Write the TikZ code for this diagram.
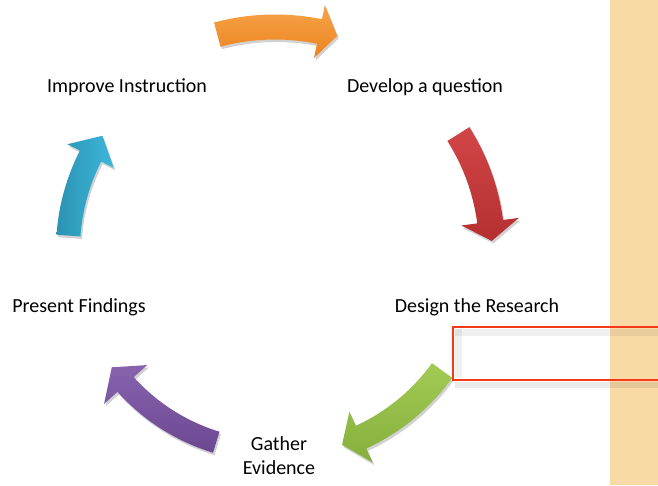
\documentclass[tikz,border=0pt]{standalone}
\usepackage{fontspec}
\setmainfont{Carlito}
\begin{document}
\begin{tikzpicture}[x=1pt,y=1pt,
  lbl/.style={font=\fontsize{20}{23.5}\selectfont, text=black, inner sep=0pt, anchor=base, align=center},
  shadowfill/.style={fill=black, opacity=0.18},
  orangearrow/.style={top color=orangeA, bottom color=orangeB, draw=none},
  redarrow/.style={top color=redA, bottom color=redB, draw=none},
  greenarrow/.style={top color=greenA, bottom color=greenB, draw=none},
  purplearrow/.style={top color=purpleA, bottom color=purpleB, draw=none},
  cyanarrow/.style={left color=cyanA, right color=cyanB, draw=none},
  redbox/.style={draw=boxred, line width=2.2pt}
]
\definecolor{orangeA}{HTML}{F7A449}
\definecolor{orangeB}{HTML}{EC831F}
\definecolor{redA}{HTML}{D24647}
\definecolor{redB}{HTML}{B52F31}
\definecolor{greenA}{HTML}{A2CB55}
\definecolor{greenB}{HTML}{86AE3C}
\definecolor{purpleA}{HTML}{8863AE}
\definecolor{purpleB}{HTML}{6C4891}
\definecolor{cyanA}{HTML}{2B93B4}
\definecolor{cyanB}{HTML}{3EB7DA}
\definecolor{tan}{HTML}{F8DAA6}
\definecolor{boxred}{HTML}{F43A18}

\useasboundingbox (0,0) rectangle (658,-485);
\clip (0,0) rectangle (658,-485);
\fill[white] (0,0) rectangle (658,-485);
\fill[tan] (610,0) rectangle (658,-485);

% arrow macro: style, R, w, tip angle, tail angle, head base angle, h
\newcommand{\cycArrowPath}[7]{%
  \path[#1] (#5:{#2+#3}) arc[start angle=#5, end angle=#6, radius={#2+#3}]
    -- (#6:{#2+#7}) -- (#4:#2) -- (#6:{#2-#7}) -- (#6:{#2-#3})
    arc[start angle=#6, end angle=#5, radius={#2-#3}] -- cycle;}

\begin{scope}[shift={(275,-250)}]
  % shadows
  \begin{scope}[shift={(1.5,-2.5)}]
    \cycArrowPath{shadowfill}{223}{12.5}{73.8}{105}{78.5}{27}
    \cycArrowPath{shadowfill}{217}{13}{2.4}{32.3}{7.5}{29}
    \cycArrowPath{shadowfill}{206}{12.5}{-71}{-35.8}{-65.3}{28}
    \cycArrowPath{shadowfill}{201}{11}{-144.3}{-107}{-138}{29}
    \cycArrowPath{shadowfill}{207}{12}{146.5}{176}{153}{26}
  \end{scope}
  % arrows
  \cycArrowPath{orangearrow}{223}{12.5}{73.8}{105}{78.5}{27}
  \cycArrowPath{redarrow}{217}{13}{2.4}{32.3}{7.5}{29}
  \cycArrowPath{greenarrow}{206}{12.5}{-71}{-35.8}{-65.3}{28}
  \cycArrowPath{purplearrow}{201}{11}{-144.3}{-107}{-138}{29}
  \cycArrowPath{cyanarrow}{207}{12}{146.5}{176}{153}{26}
\end{scope}

% labels
\node[lbl] (improve) at (127,-92) {Improve Instruction};
\node[lbl] (develop) at (425,-92) {Develop a question};
\node[lbl] (design) at (477,-312) {Design the Research};
\node[lbl] (gather) at (279,-474) {Gather\\Evidence};
\node[lbl] (present) at (79,-312) {Present Findings};

% red box with soft shadow
\fill[black, opacity=0.06] (455,-329) rectangle (670,-336);
\fill[black, opacity=0.06] (455,-329) rectangle (462,-378);
\fill[black, opacity=0.08] (455,-382) rectangle (670,-388);
\draw[redbox] (453,-327) rectangle (675,-380);
\end{tikzpicture}
\end{document}
